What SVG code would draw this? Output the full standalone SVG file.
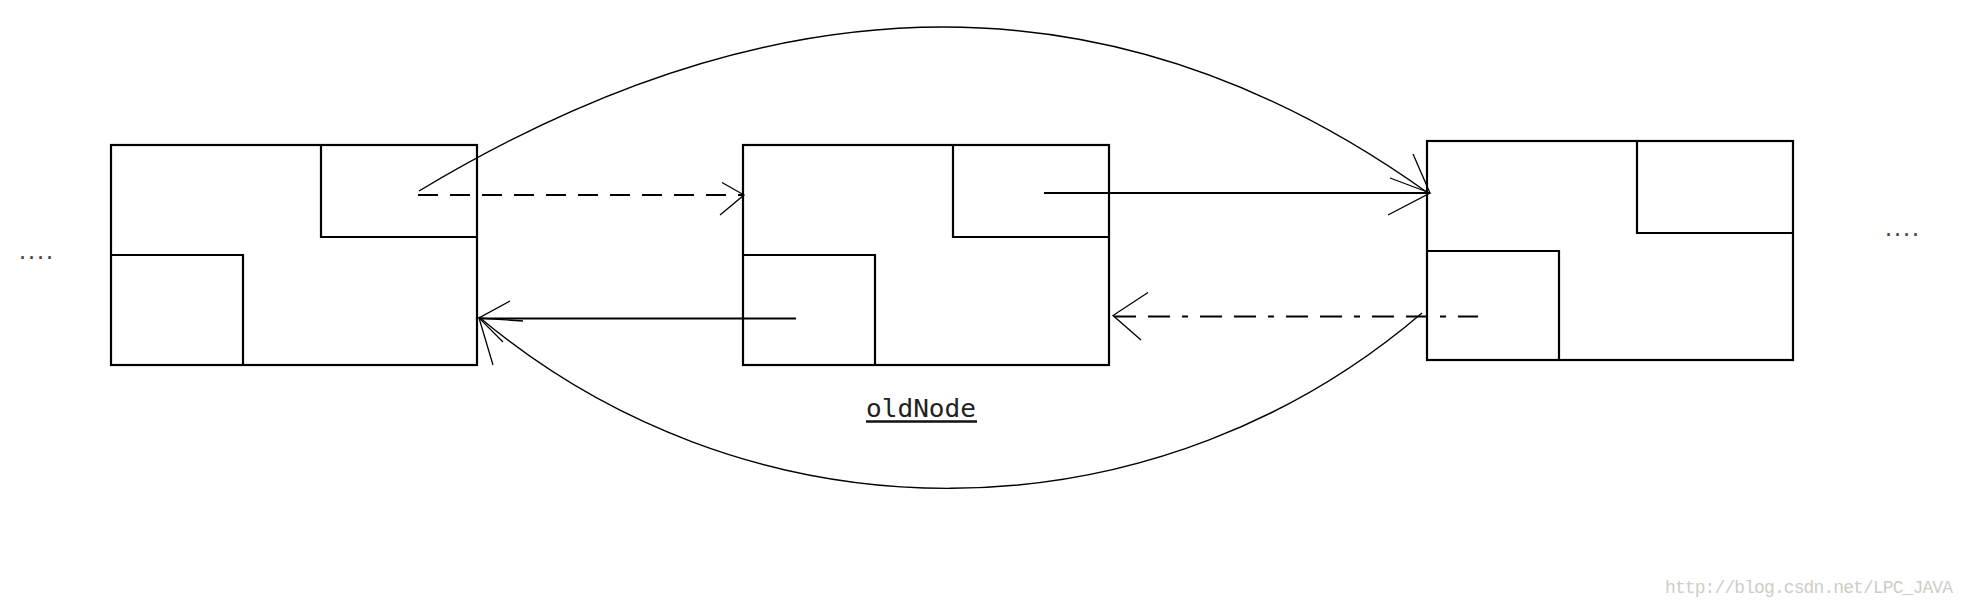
<svg xmlns="http://www.w3.org/2000/svg" width="1966" height="606" viewBox="0 0 1966 606">
<style>
.box{fill:none;stroke:#000;stroke-width:2.2}
.line{fill:none;stroke:#000;stroke-width:1.8}
.curve{fill:none;stroke:#000;stroke-width:1.4}
.arm{fill:none;stroke:#000;stroke-width:1.3}
.dash{stroke-dasharray:20 12}
.dashdot{stroke-dasharray:22 12 22 12 6 12}
.dots{font-family:"DejaVu Sans Mono",monospace;font-size:15px;font-weight:bold;fill:#444}
</style>
<rect width="1966" height="606" fill="#fff"/>
<g id="node1">
<rect class="box" x="111" y="145" width="366" height="220"/>
<polyline class="box" points="321,145 321,237 477,237"/>
<polyline class="box" points="111,255 243,255 243,365"/>
</g>
<g id="node2">
<rect class="box" x="743" y="145" width="366" height="220"/>
<polyline class="box" points="953,145 953,237 1109,237"/>
<polyline class="box" points="743,255 875,255 875,365"/>
</g>
<g id="node3">
<rect class="box" x="1427" y="141" width="366" height="219"/>
<polyline class="box" points="1637,141 1637,233 1793,233"/>
<polyline class="box" points="1427,251 1559,251 1559,360"/>
</g>
<g id="connectors">
<line class="line dash" x1="418" y1="195" x2="743" y2="195"/>
<polyline class="arm" points="722,182.5 744,195 720,215"/>
<line class="line" x1="1044" y1="193" x2="1430" y2="193"/>
<polyline class="arm" points="1390,178 1430,193 1388,215"/>
<path class="curve" d="M419,191 Q966,-138 1428,193"/>
<polyline class="arm" points="1413,154 1430,193"/>
<line class="line" x1="796" y1="318.5" x2="479" y2="318.5"/>
<polyline class="arm" points="510,301 479,318 503,342"/>
<line class="line dashdot" x1="1114" y1="316.5" x2="1478" y2="316.5"/>
<polyline class="arm" points="1148,292.5 1113,315.5 1141,340"/>
<path class="curve" d="M1422,313 A728,728 0 0 1 479,317"/>
<polyline class="arm" points="493,365 479,318 523,321"/>
</g>
<g id="label-oldNode">
<text x="866" y="417" font-family="DejaVu Sans Mono, monospace" font-size="25" textLength="110" lengthAdjust="spacingAndGlyphs" fill="#222">oldNode</text>
<line x1="866" y1="421.5" x2="977" y2="421.5" stroke="#111" stroke-width="2.6"/>
</g>
<text class="dots" x="18" y="259">....</text>
<text class="dots" x="1884" y="236">....</text>
<text x="1665" y="593" font-family="Liberation Mono, monospace" font-size="18" textLength="288" fill="#cfcdc5">http://blog.csdn.net/LPC_JAVA</text>
</svg>
